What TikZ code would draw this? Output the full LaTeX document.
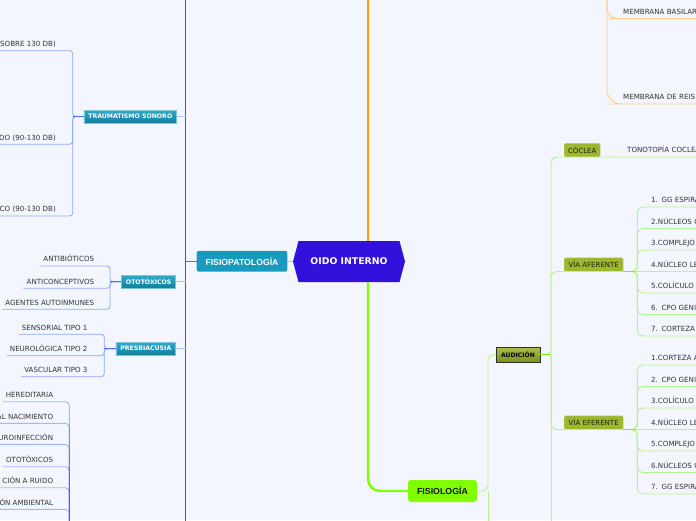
\documentclass[tikz,border=0pt]{standalone}
\usepackage{fontspec}
\setmainfont{DejaVu Sans}
\newfontfamily\lsans{Liberation Sans}
\usetikzlibrary{shapes.symbols}

\definecolor{bgcol}{HTML}{F3F6FE}
\definecolor{txtgray}{HTML}{333333}
\definecolor{centcol}{HTML}{3111DB}
\definecolor{fisiopcol}{HTML}{179ABD}
\definecolor{tealtop}{HTML}{2FAACB}
\definecolor{tealbot}{HTML}{127F9D}
\definecolor{tealedge}{HTML}{7CC6DA}
\definecolor{fpblue}{HTML}{2F55FF}
\definecolor{fpchild}{HTML}{8BA9FF}
\definecolor{orgmain}{HTML}{FF9900}
\definecolor{orglight}{HTML}{FFCB85}
\definecolor{grnmain}{HTML}{80FF00}
\definecolor{grnmid}{HTML}{7FEE22}
\definecolor{grnlight}{HTML}{B4F58C}
\definecolor{olivefill}{HTML}{9DB72E}
\definecolor{oliveedge}{HTML}{B7CC60}
\definecolor{olivetxt}{HTML}{1F2600}
\definecolor{audtop}{HTML}{ADC14A}
\definecolor{audbot}{HTML}{7A911C}
\definecolor{audedge}{HTML}{2E2E2E}

\begin{document}
\begin{tikzpicture}[x=1pt,y=-1pt,
    lbl/.style={font=\fontsize{7.1}{8.6}\selectfont,text=txtgray,inner xsep=3pt,inner ysep=2pt,text height=5.3pt,text depth=2pt},
    rlbl/.style={lbl,anchor=south west,text width=84pt,align=left},
    llbl/.style={lbl,anchor=south east},
    tealbox/.style={top color=tealtop,bottom color=tealbot,draw=tealedge,line width=0.5pt,text=white,font=\fontsize{6.2}{7}\selectfont\bfseries,minimum height=12.7pt,inner xsep=2pt,inner ysep=0pt},
    olivebox/.style={fill=olivefill,draw=oliveedge,line width=0.4pt,rounded corners=1.5pt,text=olivetxt,font=\fontsize{7}{8}\selectfont,minimum height=13.5pt,inner xsep=2pt,inner ysep=0pt,anchor=south west},
    bmain/.style={draw=fpblue,line width=1pt},
    bmid/.style={draw=fpblue!85!white,line width=1.3pt},
    bline/.style={draw=fpchild,line width=0.8pt,rounded corners=3pt},
    btick/.style={draw=fpchild!70!white,line width=0.8pt},
    hline/.style={draw=fpblue,draw opacity=0.4,line width=0.9pt,rounded corners=4pt},
    omain/.style={draw=orgmain,line width=2.4pt},
    oline/.style={draw=orglight,line width=0.9pt,rounded corners=10pt},
    gmain/.style={draw=grnmain,line width=2.4pt,rounded corners=12pt},
    gmid/.style={draw=grnmid,line width=1.6pt},
    gline/.style={draw=grnlight,line width=0.9pt,rounded corners=6pt}]
\useasboundingbox (0,0) rectangle (696,520);
\clip (0,0) rectangle (696,520);
\fill[bgcol] (0,0) rectangle (696,520);

\coordinate (topO) at (368,-5);
\coordinate (fpTop) at (185.5,-5);
\coordinate (fpBot) at (185.5,525);
\coordinate (memFork) at (607,-10);
\coordinate (audFork) at (551,354.5);
\coordinate (audDown) at (551,530);
\coordinate (fisFork) at (488,491);
\coordinate (fisDown) at (488,530);
\coordinate (trauFork) at (72.7,116.5);
\coordinate (otoFork) at (110,281.7);
\coordinate (presFork) at (104.3,348.7);
\coordinate (hipoFork) at (69.3,545);

% main nodes
\node[signal,signal to=east and west,signal pointer angle=150,fill=centcol,minimum width=112pt,minimum height=41pt,inner sep=0pt,text=white,font=\fontsize{9.3}{10}\selectfont\bfseries] (oido) at (349,261.5) {OIDO INTERNO};
\node[fill=fisiopcol,rounded corners=2pt,minimum width=90.6pt,minimum height=20.7pt,inner sep=0pt,text=white,font=\lsans\fontsize{8.7}{10}\selectfont\bfseries] (fisiop) at (242,261.3) {FISIOPATOLOGÍA};
\node[fill=grnmain,rounded corners=3pt,minimum width=69pt,minimum height=22pt,inner sep=0pt,text=black!90,font=\lsans\fontsize{8.8}{10}\selectfont\bfseries] (fisio) at (442.5,491) {FISIOLOGÍA};
\node[top color=audtop,bottom color=audbot,draw=audedge,line width=0.8pt,minimum width=44pt,minimum height=15pt,inner sep=0pt,font=\fontsize{6.1}{7}\selectfont\bfseries] (aud) at (518,354.5) {AUDICIÓN};

\node[olivebox,minimum width=36pt] (coc) at (564,157) {CÓCLEA};
\node[olivebox,minimum width=59pt] (vaf) at (564,271.5) {VÍA AFERENTE};
\node[olivebox,minimum width=59pt] (vef) at (564,429.5) {VÍA EFERENTE};
\node[rlbl] (tono) at (624,157) {TONOTOPÍA COCLEA};

\node[tealbox,minimum width=92.7pt] (trauma) at (130.3,116.5) {TRAUMATISMO SONORO};
\node[tealbox,minimum width=54pt] (ototox) at (148.7,281.7) {OTOTÓXICOS};
\node[tealbox,minimum width=59.7pt] (presbi) at (145.8,348.7) {PRESBIACUSIA};

\node[rlbl] (memb1) at (620,18.5) {MEMBRANA BASILAR};
\node[rlbl] (memb2) at (620,104) {MEMBRANA DE REIS};

% trunk lines
\draw[omain] (oido.north -| topO) -- (topO);
\draw[gmain] (oido.south -| topO) |- (fisio.west);
\draw[btick] (oido.west) -- (fisiop.east);
\draw[bmain] (fpTop) -- (fpBot);
\draw[bmid] (fisiop.west) -- (fisiop.west -| fpTop);
\foreach \n in {trauma,ototox,presbi}
  \draw[btick] (\n.east) -- (\n.east -| fpTop);

\draw[oline] (memFork) |- (memb1.south west) -- (memb1.south east);
\draw[oline,rounded corners=14pt] (memFork) |- (memb2.south west) -- (memb2.south east);

\draw[gline] (fisio.east) -- (fisFork) |- (aud.west);
\draw[gline] (fisFork) -- (fisDown);
\draw[gline] (aud.east) -- (audFork) |- (coc.south west) -- (tono.south east);
\draw[gline] (audFork) |- (vaf.south west) -- (vaf.south east);
\draw[gline] (audFork) |- (vef.south west) -- (vef.south east);
\draw[gline] (audFork) -- (audDown);
\draw[gmid] (aud.east) -- (audFork);

% via aferente / eferente
\foreach \d/\t [count=\i] in {-3/1. GG ESPIRA,-2/2.NÚCLEOS C,-1/3.COMPLEJO,0/4.NÚCLEO LE,1/5.COLÍCULO,2/6. CPO GENIC,3/7. CORTEZA}{
  \node[rlbl] (af\i) at (648,{271.5+21.5*(\d)}) {\t};
  \ifnum\d=0 \draw[gline] (vaf.south east) -- (af\i.south east);
  \else \draw[gline] (vaf.south east) -- ++(14,0) |- (af\i.south west) -- (af\i.south east); \fi
}
\draw[gmid] (vaf.south east) -- ++(12,0);
\foreach \d/\t [count=\i] in {-3/1.CORTEZA A,-2/2. CPO GENIC,-1/3.COLÍCULO,0/4.NÚCLEO LE,1/5.COMPLEJO,2/6.NÚCLEOS C,3/7. GG ESPIRA}{
  \node[rlbl] (ef\i) at (648,{429.5+21.5*(\d)}) {\t};
  \ifnum\d=0 \draw[gline] (vef.south east) -- (ef\i.south east);
  \else \draw[gline] (vef.south east) -- ++(14,0) |- (ef\i.south west) -- (ef\i.south east); \fi
}
\draw[gmid] (vef.south east) -- ++(12,0);

% fisiopatologia
\foreach \y/\t [count=\i] in {50.7/{(SOBRE 130 DB)},144.3/{DO (90-130 DB)},216/{CO (90-130 DB)}}{
  \node[llbl] (tr\i) at (59,\y) {\t};
  \draw[bline] (tr\i.south west) -| (trauFork) -- (trauma.west);
}
\draw[bmid] (trauma.west) -- (trauFork);
\foreach \y/\t [count=\i] in {266/ANTIBIÓTICOS,288.3/ANTICONCEPTIVOS,309.3/AGENTES AUTOINMUNES}{
  \node[llbl] (ot\i) at (97.3,\y) {\t};
  \draw[bline] (ot\i.south west) -| (otoFork) -- (ototox.west);
}
\draw[bmid] (ototox.west) -- (otoFork);
\foreach \y/\t [count=\i] in {334.3/SENSORIAL TIPO 1,355.7/NEUROLÓGICA TIPO 2,376.7/VASCULAR TIPO 3}{
  \node[llbl] (pr\i) at (90.7,\y) {\t};
  \draw[bline] (pr\i.south west) -| (presFork) -- (presbi.west);
}
\draw[bmid] (presbi.west) -- (presFork);
\foreach \y/\t [count=\i] in {401.7/HEREDITARIA,423.3/AL NACIMIENTO,444.3/UROINFECCIÓN,466.7/OTOTÓXICOS,487.7/CIÓN A RUIDO,509.3/ÓN AMBIENTAL}{
  \node[llbl] (hi\i) at (56.3,\y) {\t};
  \draw[hline] (hi\i.south west) -| (hipoFork);
}
\end{tikzpicture}
\end{document}
